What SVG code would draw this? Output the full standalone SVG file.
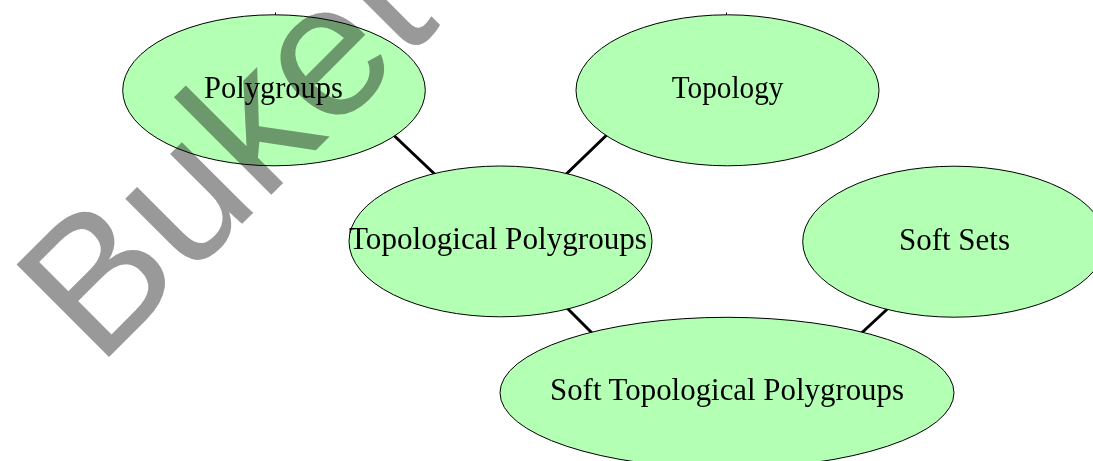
<svg xmlns="http://www.w3.org/2000/svg" width="1093" height="461" viewBox="0 0 1093 461">
  <style>
    .node ellipse { fill: #b3ffb3; stroke: #000000; stroke-width: 1; }
    .node text { font-family: "Liberation Serif", "DejaVu Serif", serif; font-size: 30.5px; fill: #000000; }
    .edge { stroke: #000000; stroke-width: 3; fill: none; }
    .tick { stroke: #000000; stroke-width: 1; }
    .wm { font-family: "Liberation Sans", Arial, sans-serif; font-size: 190px; fill: #999999; mix-blend-mode: multiply; }
  </style>
  <rect x="0" y="0" width="1093" height="461" fill="#ffffff"/>
  <g id="connectors">
    <line class="edge" x1="385" y1="127" x2="443" y2="182"/>
    <line class="edge" x1="615" y1="127" x2="558" y2="182"/>
    <line class="edge" x1="560" y1="301" x2="600" y2="341"/>
    <line class="edge" x1="896" y1="301" x2="854" y2="340"/>
    <line class="tick" x1="275.5" y1="12.5" x2="275.5" y2="15"/>
    <line class="tick" x1="726.5" y1="12.5" x2="726.5" y2="15"/>
  </g>
  <g id="node-polygroups" class="node">
    <ellipse cx="274" cy="90.3" rx="151.3" ry="75.5"/>
    <text x="204" y="98.3" textLength="139" lengthAdjust="spacingAndGlyphs">Polygroups</text>
  </g>
  <g id="node-topology" class="node">
    <ellipse cx="727.5" cy="90.3" rx="151.5" ry="75.5"/>
    <text x="671.7" y="98.3" textLength="111.7" lengthAdjust="spacingAndGlyphs">Topology</text>
  </g>
  <g id="node-topological-polygroups" class="node">
    <ellipse cx="500.5" cy="241.4" rx="151.5" ry="75.4"/>
    <text x="349" y="249.3" textLength="298" lengthAdjust="spacingAndGlyphs">Topological Polygroups</text>
  </g>
  <g id="node-soft-sets" class="node">
    <ellipse cx="954.2" cy="241.7" rx="151.5" ry="75.5"/>
    <text x="899" y="250" textLength="111" lengthAdjust="spacingAndGlyphs">Soft Sets</text>
  </g>
  <g id="node-soft-topological-polygroups" class="node">
    <ellipse cx="727" cy="392.8" rx="227" ry="75.5"/>
    <text x="550" y="400" textLength="354" lengthAdjust="spacingAndGlyphs">Soft Topological Polygroups</text>
  </g>
  <text class="wm" x="98" y="368" transform="rotate(-45 98 368)">Buket</text>
</svg>
